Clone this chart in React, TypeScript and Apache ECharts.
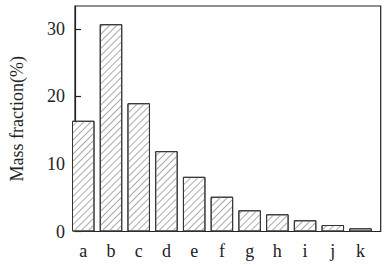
import React, { useEffect, useRef } from "react";
import * as echarts from "echarts";

const categories = ["a", "b", "c", "d", "e", "f", "g", "h", "i", "j", "k"];
const massFraction = [16.4, 30.7, 19.0, 11.9, 8.1, 5.15, 3.14, 2.55, 1.66, 0.96, 0.47];
const yMax = 33.4;
const yLabel = "Mass fraction(%)";

const FONT = "Liberation Serif";

export default function App() {
  const ref = useRef<HTMLDivElement>(null);
  useEffect(() => {
    if (!ref.current) return;
    const chart = echarts.init(ref.current, undefined, { renderer: "svg" });
    chart.setOption({
      animation: false,
      backgroundColor: "#fff",
      textStyle: { fontFamily: FONT, fontSize: 18 },
      grid: [
        {
          left: 64,
          top: 6,
          width: 316.7,
          height: 225.5,
          show: true,
          borderColor: "#222",
          borderWidth: 1.2,
          backgroundColor: "transparent",
        },
        { left: 69.4, top: 6, width: 305, height: 225.5 },
      ],
      xAxis: [
        { gridIndex: 0, type: "value", min: 0, max: 1, show: false },
        {
          gridIndex: 1,
          type: "category",
          data: categories,
          axisLine: { show: false },
          axisTick: { show: false },
          axisLabel: { color: "#222", fontFamily: FONT, fontSize: 18, margin: 10 },
        },
      ],
      yAxis: [
        {
          gridIndex: 0,
          type: "value",
          min: 0,
          max: yMax,
          interval: 10,
          axisLine: { show: true, lineStyle: { color: "#222", width: 1.2 } },
          axisTick: { show: true, inside: true, length: 6, lineStyle: { color: "#222", width: 1.2 } },
          splitLine: { show: false },
          axisLabel: { color: "#222", fontFamily: FONT, fontSize: 18, margin: 10, showMaxLabel: false },
          name: yLabel,
          nameLocation: "middle",
          nameGap: 49,
          nameTextStyle: { color: "#222", fontFamily: FONT, fontSize: 18 },
        },
        { gridIndex: 1, type: "value", min: 0, max: yMax, show: false },
      ],
      series: [
        {
          type: "bar",
          xAxisIndex: 1,
          yAxisIndex: 1,
          data: massFraction,
          barWidth: 22.5,
          itemStyle: {
            color: "#fff",
            borderColor: "#333",
            borderWidth: 1,
            decal: {
              symbol: "rect",
              symbolSize: 1,
              color: "#aaa",
              dashArrayX: [1, 0],
              dashArrayY: [1, 4],
              rotation: -Math.PI / 4,
            },
          },
        },
      ],
    });
    return () => chart.dispose();
  }, []);
  return <div ref={ref} style={{ width: 388, height: 265, position: "absolute", left: 0, top: 0 }} />;
}
